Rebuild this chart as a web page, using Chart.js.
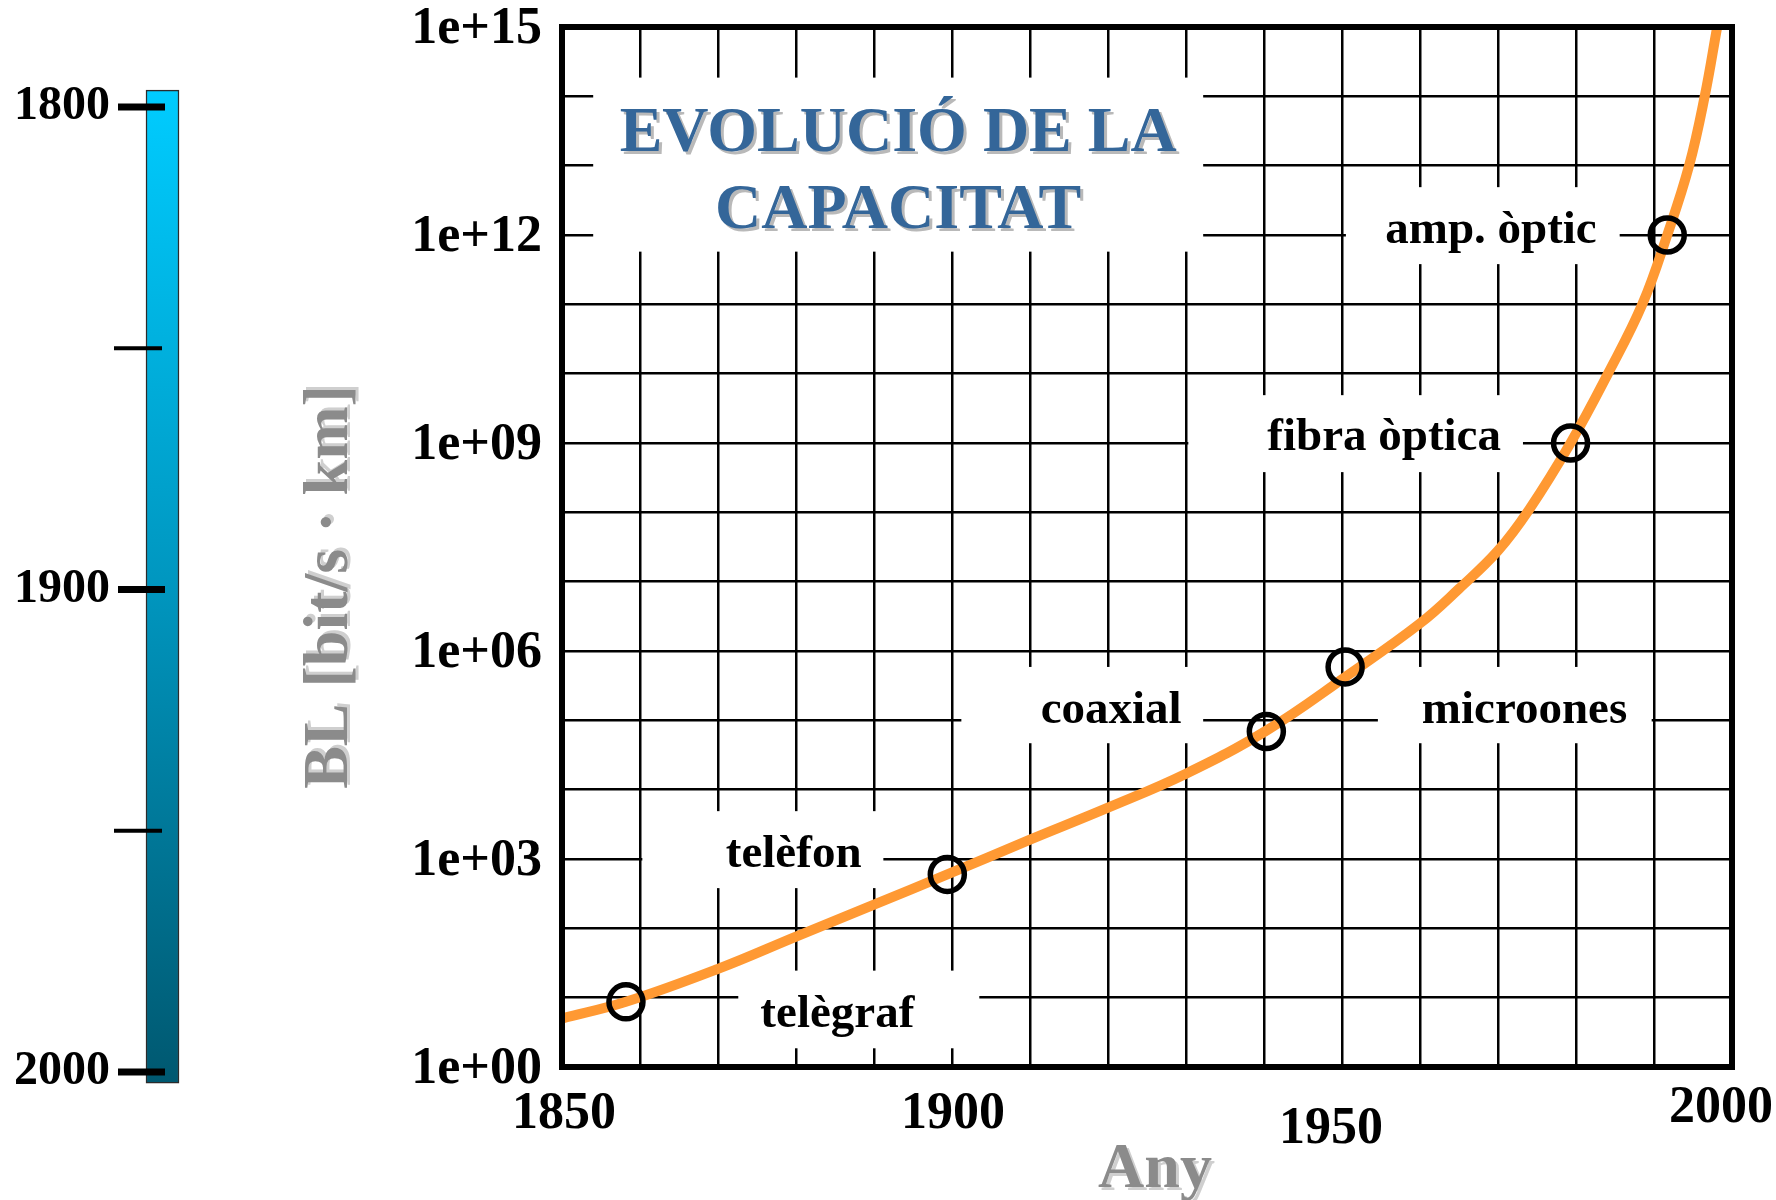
<!DOCTYPE html>
<html>
<head>
<meta charset="utf-8">
<title>Evolució de la capacitat</title>
<script src="https://cdn.jsdelivr.net/npm/chart.js@4/dist/chart.umd.min.js"></script>
<style>
  html, body { margin: 0; padding: 0; background: #fff; overflow: hidden; }
  #wrap { position: relative; width: 1776px; height: 1200px; }
  canvas { position: absolute; left: 0; top: 0; }
</style>
</head>
<body>
<div id="wrap">
  <canvas id="plot" width="1776" height="1200"></canvas>
  <canvas id="cbar" width="200" height="1200"></canvas>
</div>
<script>
// curve (year, BL in bit/s·km)
const curveYears = [1850, 1858.2, 1870, 1880, 1890, 1899.4, 1910, 1920, 1930, 1940.3, 1950.4,
  1960, 1965, 1970, 1974, 1979.3, 1984.1, 1988.5, 1991.7, 1994.5, 1996.5, 1998.1];
const curveBL = [5.0, 8.7, 26, 76, 220, 600, 1.9e3, 5.5e3, 1.7e4, 7.1e4, 4.2e5,
  2.5e6, 7.9e6, 2.8e7, 1.1e8, 1e9, 1e10, 1e11, 1e12, 1e13, 1e14, 1e15];

// milestones (circles)
const milestoneNames = ['telègraf', 'telèfon', 'coaxial', 'microones', 'fibra òptica', 'amp. òptic'];
const milestoneYears = [1858.2, 1899.4, 1940.3, 1950.4, 1979.3, 1991.7];
const milestoneBL = [8.7, 600, 6.9e4, 5.9e5, 1e9, 1e12];

// axes
const xTickValues = [1850, 1900, 1950, 2000];
const xTickLabels = ['1850', '1900', '1950', '2000'];
const yTickValues = [1, 1e3, 1e6, 1e9, 1e12, 1e15];
const yTickLabels = ['1e+00', '1e+03', '1e+06', '1e+09', '1e+12', '1e+15'];
const titleLines = ['EVOLUCIÓ DE LA', 'CAPACITAT'];

// colour bar on the left
const cbarRange = [1796.5, 2002.3];
const cbarTickValues = [1800, 1850, 1900, 1950, 2000];
const cbarLabelValues = [1800, 1900, 2000];
const cbarLabels = ['1800', '1900', '2000'];

const SERIF = "'Liberation Serif', 'Times New Roman', serif";

// label boxes: [year, decade] of text baseline centre, box as [year0, year1, decade0, decade1]
const notes = [
  { at: [1885.3, 0.58], box: [1872.6, 1903.5, 0.27, 1.39] },
  { at: [1879.7, 2.89], box: [1860.3, 1891.2, 2.58, 3.69] },
  { at: [1920.4, 4.96], box: [1901.2, 1932.2, 4.67, 5.77] },
  { at: [1973.4, 4.96], box: [1954.6, 1989.7, 4.67, 5.77] },
  { at: [1955.4, 8.90], box: [1930.3, 1973.2, 8.58, 9.69] },
  { at: [1969.1, 11.89], box: [1950.5, 1985.6, 11.58, 12.69] }
];
const titleBox = [1854.0, 1932.2, 11.76, 14.27];
const titleAt = [[1893.1, 13.21], [1893.1, 12.10]];
const xTickNudge = [[2, 44], [1, 44], [-11, 59], [-11, 38]];

function shadowText(ctx, text, x, y, fill, shadow, off) {
  ctx.fillStyle = shadow;
  ctx.fillText(text, x + off, y + off);
  ctx.fillStyle = fill;
  ctx.fillText(text, x, y);
}

const decorPlugin = {
  id: 'decor',
  beforeDatasetsDraw(chart) {
    const { ctx, scales: { x, y } } = chart;
    ctx.save();
    ctx.fillStyle = '#fff';
    [titleBox].concat(notes.map(n => n.box)).forEach(b => {
      const x0 = x.getPixelForValue(b[0]), x1 = x.getPixelForValue(b[1]);
      const y0 = y.getPixelForValue(10 ** b[2]), y1 = y.getPixelForValue(10 ** b[3]);
      ctx.fillRect(x0, y1, x1 - x0, y0 - y1);
    });
    ctx.restore();
  },
  afterDatasetsDraw(chart) {
    const { ctx, chartArea: a, scales: { x, y } } = chart;
    ctx.save();
    ctx.strokeStyle = '#000';
    ctx.lineWidth = 6;
    ctx.strokeRect(a.left, a.top, a.right - a.left, a.bottom - a.top);

    ctx.textAlign = 'center';
    ctx.textBaseline = 'alphabetic';
    ctx.fillStyle = '#000';
    ctx.font = 'bold 47px ' + SERIF;
    notes.forEach((n, i) => {
      ctx.fillText(milestoneNames[i], x.getPixelForValue(n.at[0]), y.getPixelForValue(10 ** n.at[1]));
    });

    ctx.font = 'bold 64px ' + SERIF;
    titleLines.forEach((t, i) => {
      shadowText(ctx, t, x.getPixelForValue(titleAt[i][0]), y.getPixelForValue(10 ** titleAt[i][1]),
        '#346699', '#b9b9b9', 3);
    });
    ctx.restore();
  },
  afterDraw(chart) {
    const { ctx, chartArea: a, scales: { x } } = chart;
    ctx.save();
    ctx.textAlign = 'center';
    ctx.textBaseline = 'alphabetic';
    ctx.fillStyle = '#000';
    ctx.font = 'bold 52px ' + SERIF;
    xTickValues.forEach((v, i) => {
      ctx.fillText(xTickLabels[i], x.getPixelForValue(v) + xTickNudge[i][0], a.bottom + xTickNudge[i][1] + 17);
    });

    ctx.font = 'bold 64px ' + SERIF;
    shadowText(ctx, 'Any', (a.left + a.right) / 2 + 8, 1187, '#8b8b8b', '#cfcfcf', 3);

    ctx.translate(330, (a.top + a.bottom) / 2 + 40);
    ctx.rotate(-Math.PI / 2);
    ctx.textBaseline = 'middle';
    shadowText(ctx, 'BL [bit/s · km]', 0, 0, '#8b8b8b', '#cfcfcf', 3);
    ctx.restore();
  }
};

new Chart(document.getElementById('plot'), {
  type: 'line',
  data: {
    datasets: [
      {
        label: 'fites',
        data: milestoneYears.map((yr, i) => ({ x: yr, y: milestoneBL[i] })),
        showLine: false,
        pointRadius: 17,
        pointHoverRadius: 17,
        pointBorderWidth: 5.5,
        pointBorderColor: '#000',
        pointBackgroundColor: 'rgba(0,0,0,0)',
        clip: false
      },
      {
        label: 'BL',
        data: curveYears.map((yr, i) => ({ x: yr, y: curveBL[i] })),
        borderColor: '#ff9933',
        borderWidth: 10,
        pointRadius: 0,
        fill: false,
        tension: 0.4,
        clip: 0
      }
    ]
  },
  options: {
    responsive: false,
    animation: false,
    devicePixelRatio: 1,
    events: [],
    layout: { padding: { top: 27, right: 44, left: 0, bottom: 0 } },
    plugins: { legend: { display: false }, tooltip: { enabled: false } },
    scales: {
      x: {
        type: 'linear',
        min: 1850,
        max: 2000,
        ticks: { stepSize: 10, display: false, autoSkip: false },
        grid: { color: '#000', lineWidth: 2.5, drawTicks: false },
        border: { display: false },
        afterFit: s => { s.height = 133; s.paddingLeft = 0; s.paddingRight = 0; }
      },
      y: {
        type: 'logarithmic',
        min: 1,
        max: 1e15,
        afterBuildTicks: s => {
          s.ticks = Array.from({ length: 16 }, (_, e) => ({ value: 10 ** e }));
        },
        ticks: {
          autoSkip: false,
          padding: 20,
          labelOffset: 3,
          color: '#000',
          font: { family: SERIF, size: 52, weight: 'bold' },
          callback: v => {
            const i = yTickValues.findIndex(t => Math.abs(Math.log10(t) - Math.log10(v)) < 0.01);
            return i >= 0 ? yTickLabels[i] : '';
          }
        },
        grid: { color: '#000', lineWidth: 2.5, drawTicks: false },
        border: { display: false },
        afterFit: s => { s.width = 562; s.paddingTop = 0; s.paddingBottom = 0; }
      }
    }
  },
  plugins: [decorPlugin]
});

const cbarTicksPlugin = {
  id: 'cbarTicks',
  afterDatasetsDraw(chart) {
    const { ctx, chartArea: a, scales: { y } } = chart;
    ctx.save();
    ctx.strokeStyle = '#000';
    cbarTickValues.forEach(v => {
      const major = cbarLabelValues.includes(v);
      const py = y.getPixelForValue(v);
      ctx.lineWidth = major ? 7 : 4;
      ctx.beginPath();
      ctx.moveTo(a.left - (major ? 28 : 32), py);
      ctx.lineTo(a.left + (major ? 19 : 16), py);
      ctx.stroke();
    });
    ctx.restore();
  }
};

new Chart(document.getElementById('cbar'), {
  type: 'bar',
  data: {
    labels: ['any'],
    datasets: [{
      data: [cbarRange],
      backgroundColor: c => {
        const ys = c.chart.scales.y;
        const fallback = '#0096bf';
        if (!ys || !c.chart.chartArea) return fallback;
        const y0 = ys.getPixelForValue(cbarRange[0]);
        const y1 = ys.getPixelForValue(cbarRange[1]);
        if (!isFinite(y0) || !isFinite(y1)) return fallback;
        const g = c.chart.ctx.createLinearGradient(0, y0, 0, y1);
        g.addColorStop(0, '#00ccff');
        g.addColorStop(0.5, '#0096bf');
        g.addColorStop(1, '#005870');
        return g;
      },
      borderColor: '#2b2b2b',
      borderWidth: 1.5,
      borderSkipped: false,
      barPercentage: 1,
      categoryPercentage: 1,
      clip: false
    }]
  },
  options: {
    responsive: false,
    animation: false,
    devicePixelRatio: 1,
    events: [],
    layout: { padding: { top: 107, bottom: 128, left: 0, right: 21 } },
    plugins: { legend: { display: false }, tooltip: { enabled: false } },
    scales: {
      x: { display: false },
      y: {
        type: 'linear',
        reverse: true,
        min: 1800,
        max: 2000,
        afterBuildTicks: s => { s.ticks = cbarLabelValues.map(v => ({ value: v })); },
        ticks: {
          autoSkip: false,
          padding: 28,
          color: '#000',
          font: { family: SERIF, size: 48, weight: 'bold' },
          callback: v => cbarLabels[cbarLabelValues.indexOf(v)]
        },
        grid: { display: false },
        border: { display: false },
        afterFit: s => { s.width = 146; s.paddingTop = 0; s.paddingBottom = 0; }
      }
    }
  },
  plugins: [cbarTicksPlugin]
});
</script>
</body>
</html>
